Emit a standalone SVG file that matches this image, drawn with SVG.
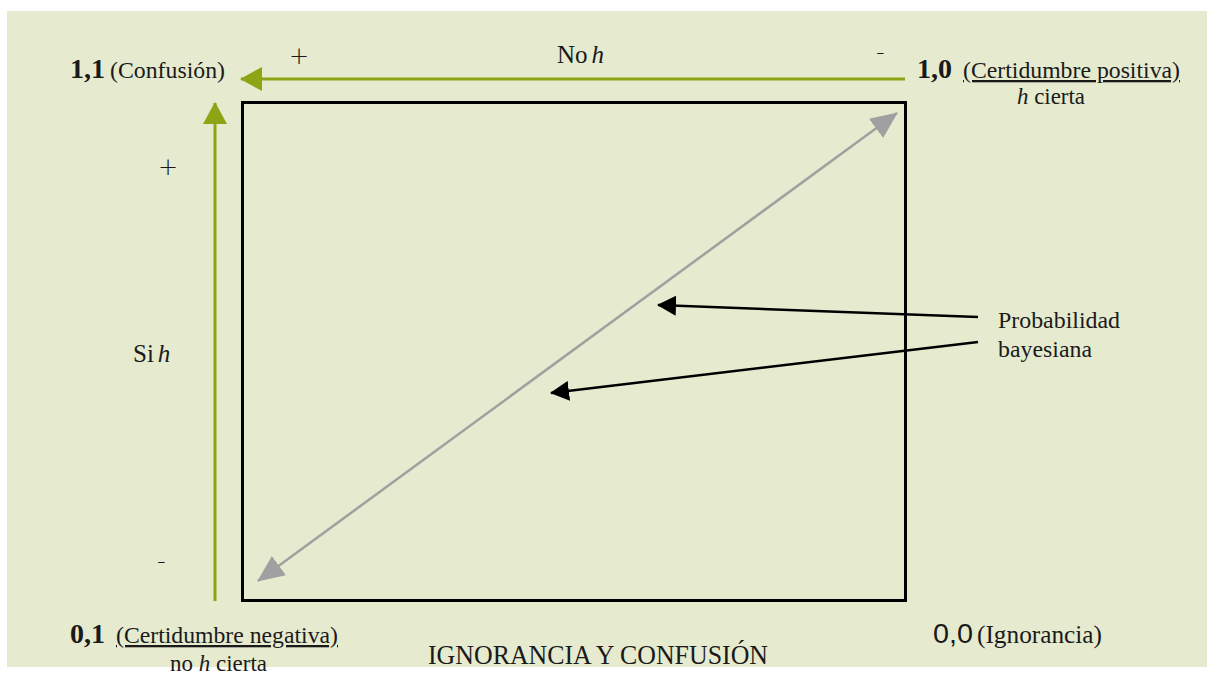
<svg xmlns="http://www.w3.org/2000/svg" width="1207" height="677" viewBox="0 0 1207 677">
<style>
text{font-family:"Liberation Serif","Times New Roman",serif;fill:#1a1a1a;}
.lbl{font-size:23px;}
.num{font-size:28px;font-weight:bold;}
.sgn{font-size:24px;font-family:"DejaVu Sans","Liberation Sans",sans-serif;font-weight:300;}
.it{font-style:italic;}
.green{stroke:#8DA415;stroke-width:3;fill:none;}
.gray{stroke:#A0A0A0;stroke-width:2.5;fill:none;}
.blk{stroke:#000;stroke-width:2.5;fill:none;}
</style>
<defs>
<marker id="mg" markerUnits="userSpaceOnUse" markerWidth="22" markerHeight="24" refX="21" refY="12" orient="auto"><path d="M0,0 L22,12 L0,24 Z" fill="#8DA415"/></marker>
<marker id="my" markerUnits="userSpaceOnUse" markerWidth="27" markerHeight="24" refX="26" refY="12" orient="auto-start-reverse"><path d="M0,0 L27,12 L0,24 Z" fill="#A0A0A0"/></marker>
<marker id="mb" markerUnits="userSpaceOnUse" markerWidth="19" markerHeight="20" refX="18" refY="10" orient="auto"><path d="M0,0 L19,10 L0,20 Z" fill="#000"/></marker>
</defs>
<rect x="7" y="11" width="1200" height="656" fill="#E6EACF"/>
<g id="box"><rect x="242.5" y="102.5" width="663" height="498" fill="none" stroke="#000" stroke-width="3"/></g>
<g id="connectors">
<line class="green" x1="905" y1="79" x2="241" y2="79" marker-end="url(#mg)"/>
<line class="green" x1="215" y1="601" x2="215" y2="103" marker-end="url(#mg)"/>
<line class="gray" x1="258" y1="581" x2="897" y2="113" marker-start="url(#my)" marker-end="url(#my)"/>
<line class="blk" x1="978" y1="317" x2="658" y2="305" marker-end="url(#mb)"/>
<line class="blk" x1="978" y1="342" x2="551" y2="393" marker-end="url(#mb)"/>
</g>
<g id="n11"><text x="70" y="78" class="num">1,1</text><text x="110" y="78" class="lbl" textLength="115" lengthAdjust="spacingAndGlyphs">(Confusión)</text></g>
<g id="nTopPlus"><text x="289" y="64" class="sgn">+</text></g>
<g id="nNoh"><text x="557" y="63" class="lbl" style="font-size:25px">No<tspan class="it" dx="4">h</tspan></text></g>
<g id="nTopMinus"><text x="876" y="60" class="sgn">-</text></g>
<g id="n10"><text x="917" y="78" class="num">1,0</text><text x="963" y="78" class="lbl" textLength="217" lengthAdjust="spacingAndGlyphs" text-decoration="underline">(Certidumbre positiva)</text><text x="1017" y="104" class="lbl" textLength="68" lengthAdjust="spacingAndGlyphs"><tspan class="it">h</tspan> cierta</text></g>
<g id="nLeftPlus"><text x="158" y="175" class="sgn">+</text></g>
<g id="nSih"><text x="133" y="362" class="lbl" style="font-size:25px">Si<tspan class="it" dx="4">h</tspan></text></g>
<g id="nLeftMinus"><text x="157" y="569" class="sgn">-</text></g>
<g id="nProb"><text x="998" y="328" class="lbl" textLength="122" lengthAdjust="spacingAndGlyphs">Probabilidad</text><text x="998" y="357" class="lbl" textLength="94" lengthAdjust="spacingAndGlyphs">bayesiana</text></g>
<g id="n01"><text x="70" y="643" class="num">0,1</text><text x="116" y="643" class="lbl" textLength="222" lengthAdjust="spacingAndGlyphs" text-decoration="underline">(Certidumbre negativa)</text><text x="170" y="671" class="lbl" textLength="97" lengthAdjust="spacingAndGlyphs">no <tspan class="it">h</tspan> cierta</text></g>
<g id="nTitle"><text x="428" y="664" class="lbl" style="font-size:27px" textLength="340" lengthAdjust="spacingAndGlyphs">IGNORANCIA Y CONFUSIÓN</text></g>
<g id="n00"><text x="933" y="643" style="font-size:28px;font-family:'Liberation Sans',Arial,sans-serif" textLength="40" lengthAdjust="spacingAndGlyphs">0,0</text><text x="977" y="643" class="lbl" style="font-size:25px" textLength="125" lengthAdjust="spacingAndGlyphs">(Ignorancia)</text></g>
</svg>
